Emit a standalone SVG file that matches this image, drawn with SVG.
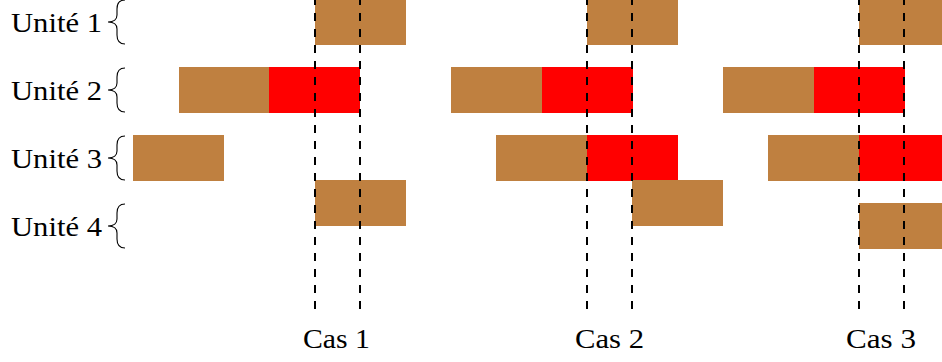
<svg xmlns="http://www.w3.org/2000/svg" width="942" height="362" viewBox="0 0 942 362">
<style>
.lbl{font-family:"Liberation Serif","DejaVu Serif",serif;font-size:27px;fill:#000}
.br{fill:#BF8040}
.rd{fill:#FF0000}
.brace{fill:none;stroke:#000;stroke-width:1.1}
.dash{stroke:#000;stroke-width:2;stroke-dasharray:8 8;fill:none}
</style>
<defs>
<path id="brace" class="brace" d="M125,-22 C119,-22 117,-19 117,-13 L117,-7 C117,-3 114,0 108,0 C114,0 117,3 117,7 L117,13 C117,19 119,22 125,22"/>
</defs>
<g id="unite1"><text class="lbl" x="11" y="32" textLength="91" lengthAdjust="spacingAndGlyphs">Unité 1</text><use href="#brace" y="22"/></g>
<g id="unite2"><text class="lbl" x="11" y="100" textLength="91" lengthAdjust="spacingAndGlyphs">Unité 2</text><use href="#brace" y="90"/></g>
<g id="unite3"><text class="lbl" x="11" y="168" textLength="91" lengthAdjust="spacingAndGlyphs">Unité 3</text><use href="#brace" y="158"/></g>
<g id="unite4"><text class="lbl" x="11" y="236" textLength="91" lengthAdjust="spacingAndGlyphs">Unité 4</text><use href="#brace" y="226"/></g>

<g id="cas1">
<rect class="br" x="315" y="-1" width="91" height="46"/>
<rect class="br" x="179" y="67" width="90" height="46"/>
<rect class="rd" x="269" y="67" width="91" height="46"/>
<rect class="br" x="133" y="135" width="91" height="46"/>
<rect class="br" x="315" y="180" width="91" height="46"/>
<text class="lbl" x="303" y="348" textLength="67" lengthAdjust="spacingAndGlyphs">Cas 1</text>
</g>
<g id="cas2">
<rect class="br" x="587" y="-1" width="91" height="46"/>
<rect class="br" x="451" y="67" width="91" height="46"/>
<rect class="rd" x="542" y="67" width="91" height="46"/>
<rect class="br" x="496" y="135" width="91" height="46"/>
<rect class="rd" x="587" y="135" width="91" height="46"/>
<rect class="br" x="632" y="180" width="91" height="46"/>
<text class="lbl" x="575" y="348" textLength="69" lengthAdjust="spacingAndGlyphs">Cas 2</text>
</g>
<g id="cas3">
<rect class="br" x="859" y="-1" width="91" height="46"/>
<rect class="br" x="723" y="67" width="91" height="46"/>
<rect class="rd" x="814" y="67" width="91" height="46"/>
<rect class="br" x="768" y="135" width="91" height="46"/>
<rect class="rd" x="859" y="135" width="91" height="46"/>
<rect class="br" x="859" y="203" width="91" height="46"/>
<text class="lbl" x="846" y="348" textLength="70" lengthAdjust="spacingAndGlyphs">Cas 3</text>
</g>

<g id="connectors">
<line class="dash" x1="315" y1="309" x2="315" y2="0"/>
<line class="dash" x1="360" y1="309" x2="360" y2="0"/>
<line class="dash" x1="587" y1="309" x2="587" y2="0"/>
<line class="dash" x1="632" y1="309" x2="632" y2="0"/>
<line class="dash" x1="859" y1="309" x2="859" y2="0"/>
<line class="dash" x1="904" y1="309" x2="904" y2="0"/>
</g>
</svg>
